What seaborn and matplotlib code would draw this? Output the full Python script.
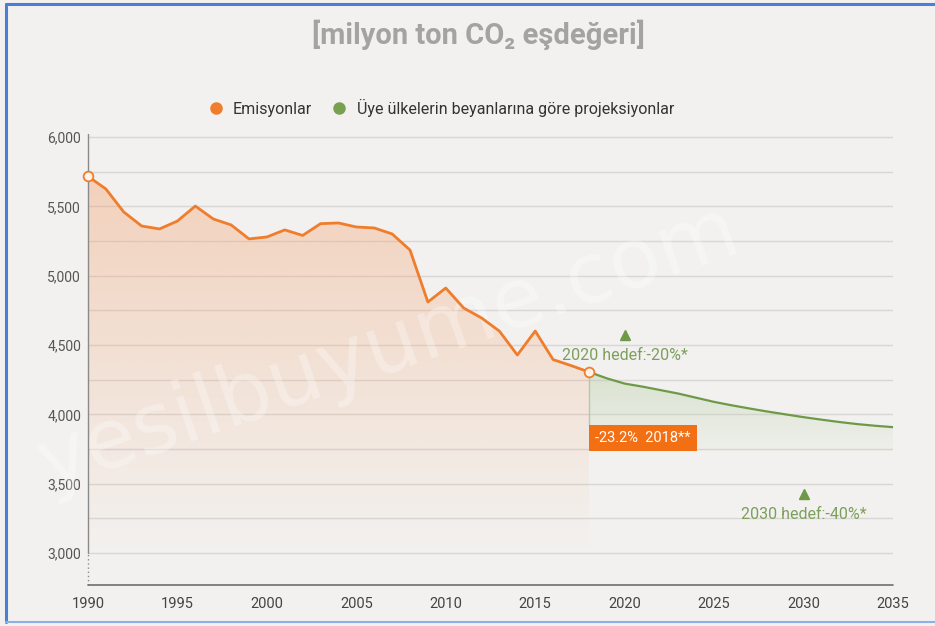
import numpy as np
import pandas as pd
import matplotlib
matplotlib.use("Agg")
import matplotlib.pyplot as plt
import seaborn as sns
from matplotlib.lines import Line2D
from matplotlib.patches import Rectangle, PathPatch
from matplotlib import font_manager

# ---- data -------------------------------------------------------------
years_hist = list(range(1990, 2019))
emissions = [5716, 5625, 5459, 5358, 5337, 5394, 5502, 5409, 5366, 5265,
             5279, 5330, 5290, 5375, 5380, 5351, 5344, 5301, 5185, 4810,
             4911, 4767, 4695, 4600, 4428, 4601, 4395, 4352, 4306]

years_proj = list(range(2018, 2036))
projection = [4306, 4260, 4222, 4200, 4175, 4150, 4120, 4090, 4065, 4042,
              4020, 4000, 3980, 3962, 3945, 3930, 3918, 3908]

target_years = [2020, 2030]
target_cuts = [-20, -40]          # percent vs. 1990
target_labels = ["2020 hedef:-20%*", "2030 hedef:-40%*"]

status_label = "-23.2%  2018**"
y_ticks = [3000, 3500, 4000, 4500, 5000, 5500, 6000]
x_ticks = [1990, 1995, 2000, 2005, 2010, 2015, 2020, 2025, 2030, 2035]

hist = pd.DataFrame({"yil": years_hist, "emisyon": emissions})
proj = pd.DataFrame({"yil": years_proj, "emisyon": projection})

# ---- style ------------------------------------------------------------
sns.set_theme(style="white")
names = {f.name for f in font_manager.fontManager.ttflist}
cond = "Liberation Sans Narrow" if "Liberation Sans Narrow" in names else "Roboto"
plt.rcParams["font.family"] = [cond, "DejaVu Sans"]

ORANGE = "#ef7d2b"
GREEN = "#6e9a48"
GREEN_TXT = "#7b9f5c"
BG = "#f2f1ef"
GRID = "#d9d7d5"
AXIS = "#8a8a8a"

fig = plt.figure(figsize=(9.35, 6.26), dpi=100, facecolor=BG)
ax = fig.add_axes([88 / 935, 41 / 626, (893 - 88) / 935, (585 - 133.5) / 626])
ax.set_facecolor("none")
ax.set_xlim(1990, 2035)
ax.set_ylim(2770, 6025)

# horizontal guide lines every 250
for v in np.arange(3000, 6001, 250):
    ax.plot([1990, 2035], [v, v], color=GRID, lw=1.0, zorder=1)

# ---- gradient fills ---------------------------------------------------
def gradient_fill(x, y, base, rgb, a_top, a_bot, v_top, v_bot, z):
    poly = ax.fill_between(x, y, base, color="none", lw=0)
    n = 256
    vals = np.linspace(6025, 2770, n)
    alpha = np.clip((vals - v_bot) / (v_top - v_bot), 0, 1)
    alpha = a_bot + (a_top - a_bot) * alpha
    img = np.zeros((n, 1, 4))
    img[:, 0, :3] = rgb
    img[:, 0, 3] = alpha
    im = ax.imshow(img, extent=[1990, 2035, 2770, 6025], aspect="auto",
                   origin="upper", zorder=z, interpolation="bilinear")
    clip = PathPatch(poly.get_paths()[0], transform=ax.transData,
                     facecolor="none", edgecolor="none")
    ax.add_patch(clip)
    im.set_clip_path(clip)

gradient_fill(years_hist, emissions, 2770, (0.96, 0.60, 0.38), 0.36, 0.0,
              5700, 3000, 2)
gradient_fill(years_proj, projection, 3736, (0.70, 0.80, 0.62), 0.40, 0.05,
              4300, 3736, 2)

# faint watermark
ax.text(2006.8, 4480, "yesilbuyume.com", fontsize=60, rotation=19,
        ha="center", va="center", family="DejaVu Sans", color="white",
        alpha=0.3, zorder=3)

# ---- lines --------------------------------------------------------------
sns.lineplot(data=hist, x="yil", y="emisyon", color=ORANGE, lw=2.0, ax=ax,
             zorder=5)
sns.lineplot(data=proj, x="yil", y="emisyon", color=GREEN, lw=1.6, ax=ax,
             zorder=5)

for x, y in [(years_hist[0], emissions[0]), (years_hist[-1], emissions[-1])]:
    ax.plot(x, y, marker="o", ms=7, mfc="#fbf3ec", mec=ORANGE, mew=1.3,
            zorder=6, clip_on=False)

# 2018 status box
box_top, box_bot = 3924, 3736
ax.plot([2018, 2018], [emissions[-1], box_top], color="#b9c6ab", lw=1.0,
        zorder=4)
ax.add_patch(Rectangle((2018, box_bot), 6.04, box_top - box_bot,
                       facecolor="#f26f13", edgecolor="none", zorder=6))
ax.text(2018 + 3.02, (box_top + box_bot) / 2, status_label, color="white",
        fontsize=10.5, ha="center", va="center", zorder=7)

# targets
base = emissions[0]
for yr, cut, lab in zip(target_years, target_cuts, target_labels):
    val = base * (1 + cut / 100)
    ax.plot(yr, val, marker="^", ms=7, color=GREEN, zorder=7, lw=0)
    ax.annotate(lab, (yr, val), xytext=(0, -15), textcoords="offset points",
                ha="center", va="center", color=GREEN_TXT, fontsize=11.5,
                zorder=7)

# ---- axes ---------------------------------------------------------------
for s in ax.spines.values():
    s.set_visible(False)
ax.plot([1990, 1990], [3000, 6025], color=AXIS, lw=1.0, zorder=4,
        clip_on=False)
ax.plot([1990, 1990], [2770, 3000], color=AXIS, lw=1.0, ls=(0, (1, 2)),
        zorder=4, clip_on=False)
ax.plot([1990, 2035], [2770, 2770], color="#6f6f6f", lw=1.2, zorder=4,
        clip_on=False)

ax.set_yticks(y_ticks)
ax.set_yticklabels([f"{v:,}" for v in y_ticks])
ax.tick_params(axis="y", length=3, width=1, color=AXIS, pad=2,
               labelsize=10, labelcolor="#555555", direction="out")

ax.set_xticks(x_ticks)
ax.set_xticks(range(1990, 2036), minor=True)
ax.tick_params(axis="x", which="major", length=8, width=1, color="#6f6f6f",
               direction="in", pad=9, labelsize=10.5, labelcolor="#444444")
ax.tick_params(axis="x", which="minor", length=4, width=1, color="#6f6f6f",
               direction="in")
ax.set_xlabel("")
ax.set_ylabel("")
ax.grid(False)

# ---- title and legend ---------------------------------------------------
fig.text(478 / 935, 1 - 35 / 626, "[milyon ton CO\u2082 eşdeğeri]",
         ha="center", va="center", fontsize=21, fontweight="bold",
         color="#a3a3a3")

handles = [
    Line2D([], [], marker="o", ls="", color=ORANGE, ms=8),
    Line2D([], [], marker="o", ls="", color="#78a14f", ms=8),
]
fig.legend(handles, ["Emisyonlar", "Üye ülkelerin beyanlarına göre projeksiyonlar"],
           loc="center", bbox_to_anchor=(437 / 935, 1 - 108 / 626), ncol=2,
           frameon=False, fontsize=11.5, handletextpad=0.1,
           columnspacing=0.7, labelcolor="#333333")

# frame
fig.add_artist(Line2D([6 / 935, 6 / 935], [1 - 4 / 626, 1 - 622 / 626],
                      color="#4a7fd6", lw=2.2, transform=fig.transFigure))
fig.add_artist(Line2D([6 / 935, 1], [1 - 4 / 626, 1 - 4 / 626],
                      color="#4a7fd6", lw=2.2, transform=fig.transFigure))
fig.add_artist(Line2D([6 / 935, 1], [1 - 622 / 626, 1 - 622 / 626],
                      color="#8fb0e6", lw=1.5, transform=fig.transFigure))

fig.savefig("out.png", dpi=100, facecolor=BG)
